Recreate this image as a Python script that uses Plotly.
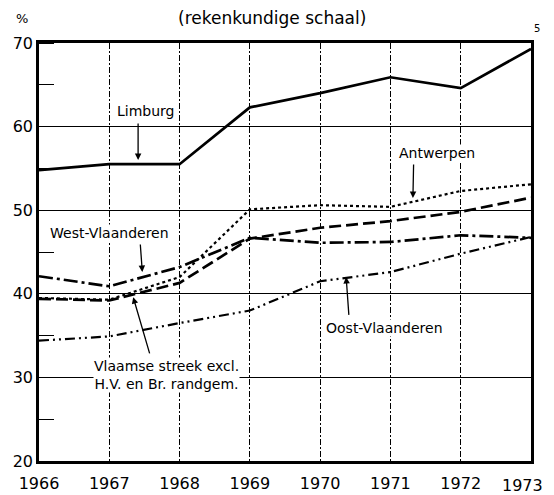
import plotly.graph_objects as go

years = [1966, 1967, 1968, 1969, 1970, 1971, 1972, 1973]
limburg = [54.8, 55.5, 55.5, 62.3, 64.0, 65.9, 64.6, 69.3]
antwerpen = [39.5, 39.3, 42.0, 50.1, 50.6, 50.4, 52.3, 53.1]
vlaamse = [39.4, 39.2, 41.3, 46.6, 47.9, 48.7, 49.8, 51.5]
west_vl = [42.1, 40.9, 43.2, 46.7, 46.1, 46.2, 47.0, 46.7]
oost_vl = [34.4, 34.9, 36.5, 38.0, 41.5, 42.6, 44.8, 46.8]
x_ticks = [str(y) for y in years]
y_ticks = [20, 30, 40, 50, 60, 70]

FONT = "DejaVu Sans"
fig = go.Figure()

def add(y, dash, width):
    fig.add_trace(go.Scatter(x=years, y=y, mode="lines",
                             line=dict(color="black", width=width, dash=dash),
                             showlegend=False, hoverinfo="skip"))

add(limburg, "solid", 2.7)
add(antwerpen, "dot", 2.2)
add(vlaamse, "12px,5px", 2.7)
add(west_vl, "14px,4px,3px,4px", 2.7)
add(oost_vl, "10px,4px,2px,4px,2px,4px", 2.2)

labels = [
    ("Limburg", 1967.51, 61.87, 1967.41, 60.55, 1967.41, 56.0),
    ("Antwerpen", 1971.66, 56.8, 1971.33, 55.65, 1971.32, 51.46),
    ("West-Vlaanderen", 1967.0, 47.27, 1967.44, 46.08, 1967.47, 42.6),
    ("Vlaamse streek excl.<br>H.V. en Br. randgem.", 1967.82, 30.3, 1967.58, 32.7, 1967.34, 39.6),
    ("Oost-Vlaanderen", 1970.92, 35.9, 1970.41, 37.3, 1970.37, 42.0),
]
for text, tx, ty, ax, ay, hx, hy in labels:
    fig.add_annotation(x=tx, y=ty, text=text, showarrow=False,
                       font=dict(family=FONT, size=14, color="black"),
                       bgcolor="white", borderpad=0)
    fig.add_annotation(x=hx, y=hy, ax=ax, ay=ay, axref="x", ayref="y", text="",
                       showarrow=True, arrowhead=2, arrowsize=1, arrowwidth=1.3,
                       arrowcolor="black")

# page has an 8px body margin: figure is 546x487 placed at (8, 8),
# and only the first 538 px of its width are visible
W, H = 546, 487
L, T, PW, PH = 31, 35, 492, 418
VISIBLE_W = 538

def px(x):
    return (x - L) / PW

def py(y):
    return 1 + (T - y) / PH

def ptext(text, x, y, size):
    fig.add_annotation(x=px(x), y=py(y), xref="paper", yref="paper", text=text,
                       showarrow=False, xanchor="center", yanchor="middle",
                       font=dict(family=FONT, size=size, color="black"))

ptext("(rekenkundige schaal)", 264, 10, 17)
ptext("%", 14, 10, 13)
ptext("5", 529, 21, 10)

# last year label kept inside the visible page width
fig.add_annotation(x=years[-1], y=0, yref="paper", text=x_ticks[-1], showarrow=False,
                   xanchor="right", yanchor="top", xshift=VISIBLE_W - L - PW - 1, yshift=-13,
                   font=dict(family=FONT, size=16, color="black"))

fig.update_layout(
    width=W, height=H,
    margin=dict(l=L, r=W - L - PW, t=T, b=H - T - PH, autoexpand=False),
    paper_bgcolor="white", plot_bgcolor="white",
    font=dict(family=FONT, color="black"),
    xaxis=dict(range=[1966, 1973], tickvals=years, ticktext=x_ticks[:-1] + [""],
               automargin=False, ticklabelstandoff=6,
               showgrid=True, gridcolor="black", gridwidth=1, griddash="6px,2px,2px,2px",
               showline=True, linecolor="black", linewidth=2.5, mirror=True,
               ticks="", tickfont=dict(size=16), zeroline=False),
    yaxis=dict(range=[20, 70], tickvals=y_ticks, automargin=False,
               showgrid=True, gridcolor="black", gridwidth=1.3,
               showline=True, linecolor="black", linewidth=2.5, mirror=True,
               ticks="", tickfont=dict(size=16), zeroline=False,
               minor=dict(dtick=5, ticks="inside", ticklen=15, tickcolor="black",
                          tickwidth=1.3, showgrid=False)),
)

fig.write_html("out.html")
